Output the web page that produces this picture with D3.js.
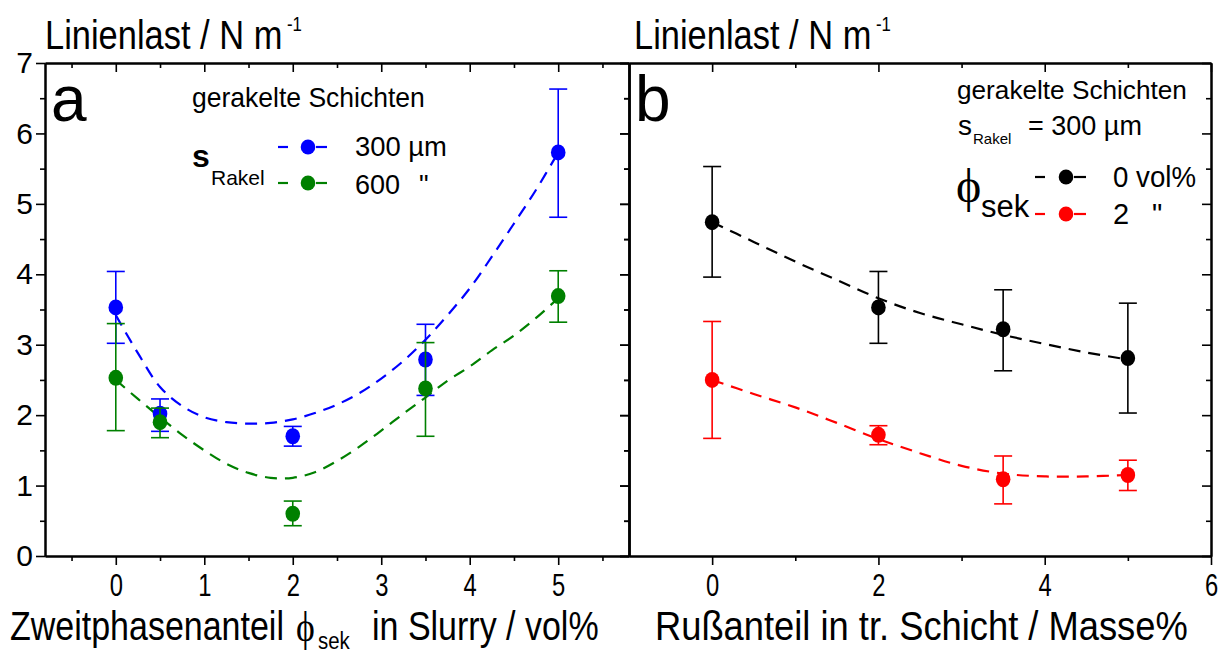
<!DOCTYPE html>
<html>
<head>
<meta charset="utf-8">
<script src="https://cdn.jsdelivr.net/npm/d3@7"></script>
<style>
  html, body { margin: 0; padding: 0; background: #fff; }
  svg { display: block; font-family: "Liberation Sans", Arial, sans-serif; }
</style>
</head>
<body>
<svg id="chart" width="1229" height="654"></svg>
<script>
// ---------- data: panel a (Linienlast vs. Zweitphasenanteil) ----------
const phiX = [0, 0.5, 2, 3.5, 5];
const load300 = [3.53, 2.02, 1.70, 2.79, 5.73];
const lo300   = [3.02, 1.77, 1.56, 2.28, 4.81];
const hi300   = [4.04, 2.23, 1.84, 3.29, 6.63];
const load600 = [2.53, 1.90, 0.60, 2.38, 3.69];
const lo600   = [1.78, 1.68, 0.43, 1.70, 3.32];
const hi600   = [3.30, 2.10, 0.78, 3.03, 4.05];

// fitted trend curves, panel a
const fitX_a   = [0, 0.25, 0.5, 0.75, 1, 1.25, 1.5, 1.75, 2, 2.25, 2.5, 2.75, 3, 3.25, 3.5, 3.75, 4, 4.25, 4.5, 4.75, 5];
const fit300   = [3.42, 2.88, 2.40, 2.13, 1.97, 1.90, 1.88, 1.89, 1.94, 2.03, 2.15, 2.31, 2.52, 2.77, 3.07, 3.42, 3.80, 4.25, 4.72, 5.20, 5.73];
const fit600   = [2.50, 2.23, 1.97, 1.72, 1.50, 1.31, 1.18, 1.11, 1.11, 1.19, 1.35, 1.55, 1.78, 2.02, 2.25, 2.49, 2.69, 2.92, 3.13, 3.38, 3.66];

// ---------- data: panel b (Linienlast vs. Rußanteil) ----------
const russX  = [0, 2, 3.5, 5];
const loadPhi0 = [4.74, 3.53, 3.22, 2.81];
const loPhi0   = [3.96, 3.02, 2.63, 2.03];
const hiPhi0   = [5.53, 4.04, 3.78, 3.59];
const loadPhi2 = [2.50, 1.72, 1.09, 1.15];
const loPhi2   = [1.67, 1.58, 0.74, 0.93];
const hiPhi2   = [3.33, 1.85, 1.42, 1.36];

const fitX_b  = [0, 0.5, 1, 1.5, 2, 2.5, 3, 3.5, 4, 4.5, 5];
const fitPhi0 = [4.74, 4.46, 4.18, 3.92, 3.66, 3.45, 3.29, 3.14, 3.01, 2.89, 2.79];
const fitPhi2 = [2.50, 2.30, 2.11, 1.89, 1.66, 1.46, 1.28, 1.17, 1.13, 1.13, 1.15];

// ---------- axis ticks ----------
const yMajor = [0, 1, 2, 3, 4, 5, 6, 7];
const yMinor = [0.5, 1.5, 2.5, 3.5, 4.5, 5.5, 6.5];
const xMajorA = [0, 1, 2, 3, 4, 5];
const xMinorA = [-0.5, 0.5, 1.5, 2.5, 3.5, 4.5, 5.5];
const xMajorB = [0, 2, 4, 6];
const xMinorB = [1, 3, 5];

// ---------- layout ----------
const svg = d3.select("#chart");
const Y0 = 556, Y1 = 63;
const AX0 = 45, AX1 = 629, BX0 = 629, BX1 = 1211;
const MAJ = 9, MIN = 5;
const SANS = "Liberation Sans, Arial, sans-serif";
const SERIF = "Liberation Serif, DejaVu Serif, serif";

const y  = d3.scaleLinear().domain([0, 7]).range([Y0, Y1]);
const xA = d3.scaleLinear().domain([-0.8, 5.8]).range([AX0, AX1]);
const xB = d3.scaleLinear().domain([-1, 6]).range([BX0, BX1]);

const COL = { b300: "#0000ff", g600: "#008000", k0: "#000000", r2: "#ff0000" };

function styleAxis(g) {
  g.selectAll("path.domain").attr("stroke", "#000").attr("stroke-width", 2);
  g.selectAll(".tick line").attr("stroke", "#000").attr("stroke-width", 1.6);
}

// bottom / top / side axes for one panel
function drawFrame(x, x0, x1, xMaj, xMin, withYLabels) {
  const gb = svg.append("g").attr("transform", `translate(0,${Y0})`)
    .call(d3.axisBottom(x).tickValues(xMaj).tickSize(MAJ).tickSizeOuter(0).tickFormat(d3.format("d")));
  styleAxis(gb);
  gb.selectAll("text")
    .attr("y", 0).attr("dy", null)
    .attr("font-size", 29).attr("fill", "#000")
    .attr("font-family", SANS)
    .attr("transform", "translate(0,40) scale(0.82,1.06)");
  const gbm = svg.append("g").attr("transform", `translate(0,${Y0})`)
    .call(d3.axisBottom(x).tickValues(xMin).tickSize(MIN).tickSizeOuter(0).tickFormat(""));
  styleAxis(gbm);
  const gt = svg.append("g").attr("transform", `translate(0,${Y1})`)
    .call(d3.axisTop(x).tickValues(xMaj).tickSize(-MAJ).tickSizeOuter(0).tickFormat(""));
  styleAxis(gt);
  const gtm = svg.append("g").attr("transform", `translate(0,${Y1})`)
    .call(d3.axisTop(x).tickValues(xMin).tickSize(-MIN).tickSizeOuter(0).tickFormat(""));
  styleAxis(gtm);
  const gl = svg.append("g").attr("transform", `translate(${x0},0)`)
    .call(d3.axisLeft(y).tickValues(yMajor).tickSize(MAJ).tickSizeOuter(0)
      .tickPadding(3).tickFormat(withYLabels ? d3.format("d") : ""));
  styleAxis(gl);
  gl.selectAll("text").attr("font-size", 30).attr("fill", "#000").attr("font-family", SANS);
  const glm = svg.append("g").attr("transform", `translate(${x0},0)`)
    .call(d3.axisLeft(y).tickValues(yMinor).tickSize(MIN).tickSizeOuter(0).tickFormat(""));
  styleAxis(glm);
  const gr = svg.append("g").attr("transform", `translate(${x1},0)`)
    .call(d3.axisRight(y).tickValues(yMajor).tickSize(-MAJ).tickSizeOuter(0).tickFormat(""));
  styleAxis(gr);
  const grm = svg.append("g").attr("transform", `translate(${x1},0)`)
    .call(d3.axisRight(y).tickValues(yMinor).tickSize(-MIN).tickSizeOuter(0).tickFormat(""));
  styleAxis(grm);
}

drawFrame(xA, AX0, AX1, xMajorA, xMinorA, true);
drawFrame(xB, BX0, BX1, xMajorB, xMinorB, false);

// ---------- series ----------
const line = (x) => d3.line().x(d => x(d[0])).y(d => y(d[1])).curve(d3.curveCatmullRom.alpha(0.5));

function drawFit(x, xs, ys, color) {
  svg.append("path")
    .datum(xs.map((v, i) => [v, ys[i]]))
    .attr("d", line(x))
    .attr("fill", "none")
    .attr("stroke", color)
    .attr("stroke-width", 2.2)
    .attr("stroke-dasharray", "12,8");
}

function drawSeries(x, xs, vals, lo, hi, color) {
  const g = svg.append("g");
  const rows = xs.map((v, i) => ({ x: v, y: vals[i], lo: lo[i], hi: hi[i] }));
  const eb = g.selectAll("g.eb").data(rows).join("g");
  eb.append("line")
    .attr("x1", d => x(d.x)).attr("x2", d => x(d.x))
    .attr("y1", d => y(d.lo)).attr("y2", d => y(d.hi))
    .attr("stroke", color).attr("stroke-width", 1.6);
  ["lo", "hi"].forEach(k => {
    eb.append("line")
      .attr("x1", d => x(d.x) - 9).attr("x2", d => x(d.x) + 9)
      .attr("y1", d => y(d[k])).attr("y2", d => y(d[k]))
      .attr("stroke", color).attr("stroke-width", 1.6);
  });
  g.selectAll("ellipse").data(rows).join("ellipse")
    .attr("cx", d => x(d.x)).attr("cy", d => y(d.y))
    .attr("rx", 7.3).attr("ry", 8)
    .attr("fill", color);
}

drawFit(xA, fitX_a, fit300, COL.b300);
drawFit(xA, fitX_a, fit600, COL.g600);
drawSeries(xA, phiX, load300, lo300, hi300, COL.b300);
drawSeries(xA, phiX, load600, lo600, hi600, COL.g600);

drawFit(xB, fitX_b, fitPhi0, COL.k0);
drawFit(xB, fitX_b, fitPhi2, COL.r2);
drawSeries(xB, russX, loadPhi0, loPhi0, hiPhi0, COL.k0);
drawSeries(xB, russX, loadPhi2, loPhi2, hiPhi2, COL.r2);

// ---------- text helpers ----------
// single-line text squeezed horizontally to a given width
function fitText(x, yy, str, size, width, opts = {}) {
  const t = svg.append("text")
    .attr("x", 0).attr("y", 0)
    .attr("font-size", size)
    .attr("fill", "#000")
    .attr("font-weight", opts.weight || "normal")
    .attr("font-family", opts.family || SANS)
    .text(str);
  const sx = width ? width / t.node().getComputedTextLength() : 1;
  const sy = opts.sy || 1;
  t.attr("transform", `translate(${x},${yy}) scale(${sx},${sy})`);
  return t;
}
// multi-part text (sub/superscripts) in one element, parts placed at absolute positions
function richText(x0, y0, sx, parts) {
  const t = svg.append("text")
    .attr("fill", "#000")
    .attr("transform", `translate(${x0},${y0}) scale(${sx},1)`);
  parts.forEach(p => {
    t.append("tspan")
      .attr("x", (p.x - x0) / sx).attr("y", p.y - y0)
      .attr("font-size", p.size)
      .attr("font-family", p.family || SANS)
      .attr("font-weight", p.weight || "normal")
      .text(p.t);
  });
  return t;
}

// y-axis titles
[45, 634].forEach(x0 => {
  richText(x0, 49, 0.84, [
    { t: "Linienlast / N m", x: x0, y: 49, size: 41 },
    { t: "-1", x: x0 + 242, y: 31, size: 20 }
  ]);
});

// panel letters
fitText(51, 121, "a", 64);
fitText(635, 121, "b", 64);

// x-axis titles
richText(10, 640, 0.85, [
  { t: "Zweitphasenanteil", x: 10, y: 640, size: 40 },
  { t: "ϕ", x: 296, y: 641, size: 42, family: SERIF },
  { t: "sek", x: 318, y: 649, size: 24 },
  { t: "in Slurry / vol%", x: 372, y: 640, size: 40 }
]);
fitText(655, 640, "Rußanteil in tr. Schicht / Masse%", 40, 533);

// ---------- legend, panel a ----------
fitText(192, 107, "gerakelte Schichten", 27, 233);
richText(192, 167, 1, [
  { t: "s", x: 192, y: 167, size: 32, weight: "bold" },
  { t: "Rakel", x: 211, y: 185, size: 21 }
]);

function legendEntry(yy, color, x1, x2, xd) {
  svg.append("line").attr("x1", x1).attr("x2", x1 + 10).attr("y1", yy).attr("y2", yy)
    .attr("stroke", color).attr("stroke-width", 2.2);
  svg.append("line").attr("x1", xd + 8).attr("x2", x2).attr("y1", yy).attr("y2", yy)
    .attr("stroke", color).attr("stroke-width", 2.2);
  svg.append("ellipse").attr("cx", xd).attr("cy", yy).attr("rx", 7.3).attr("ry", 7.5).attr("fill", color);
}
legendEntry(147, COL.b300, 278, 327, 308);
legendEntry(183, COL.g600, 278, 327, 308);
fitText(355, 156, "300 µm", 27, 92);
richText(355, 194, 1, [
  { t: "600", x: 355, y: 194, size: 27 },
  { t: "\"", x: 419, y: 194, size: 27 }
]);

// ---------- legend, panel b ----------
fitText(957, 99, "gerakelte Schichten", 26, 230);
richText(958, 135, 1, [
  { t: "s", x: 958, y: 135, size: 28 },
  { t: "Rakel", x: 973, y: 144, size: 15 },
  { t: "= 300 µm", x: 1028, y: 135, size: 27 }
]);
richText(956, 202, 1, [
  { t: "ϕ", x: 956, y: 202, size: 48, family: SERIF },
  { t: "sek", x: 981, y: 217, size: 31 }
]);
legendEntry(177, COL.k0, 1035, 1086, 1066);
legendEntry(214, COL.r2, 1035, 1086, 1066);
fitText(1113, 187, "0 vol%", 29, 83);
richText(1113, 224, 1, [
  { t: "2", x: 1113, y: 224, size: 29 },
  { t: "\"", x: 1152, y: 224, size: 29 }
]);
</script>
</body>
</html>
